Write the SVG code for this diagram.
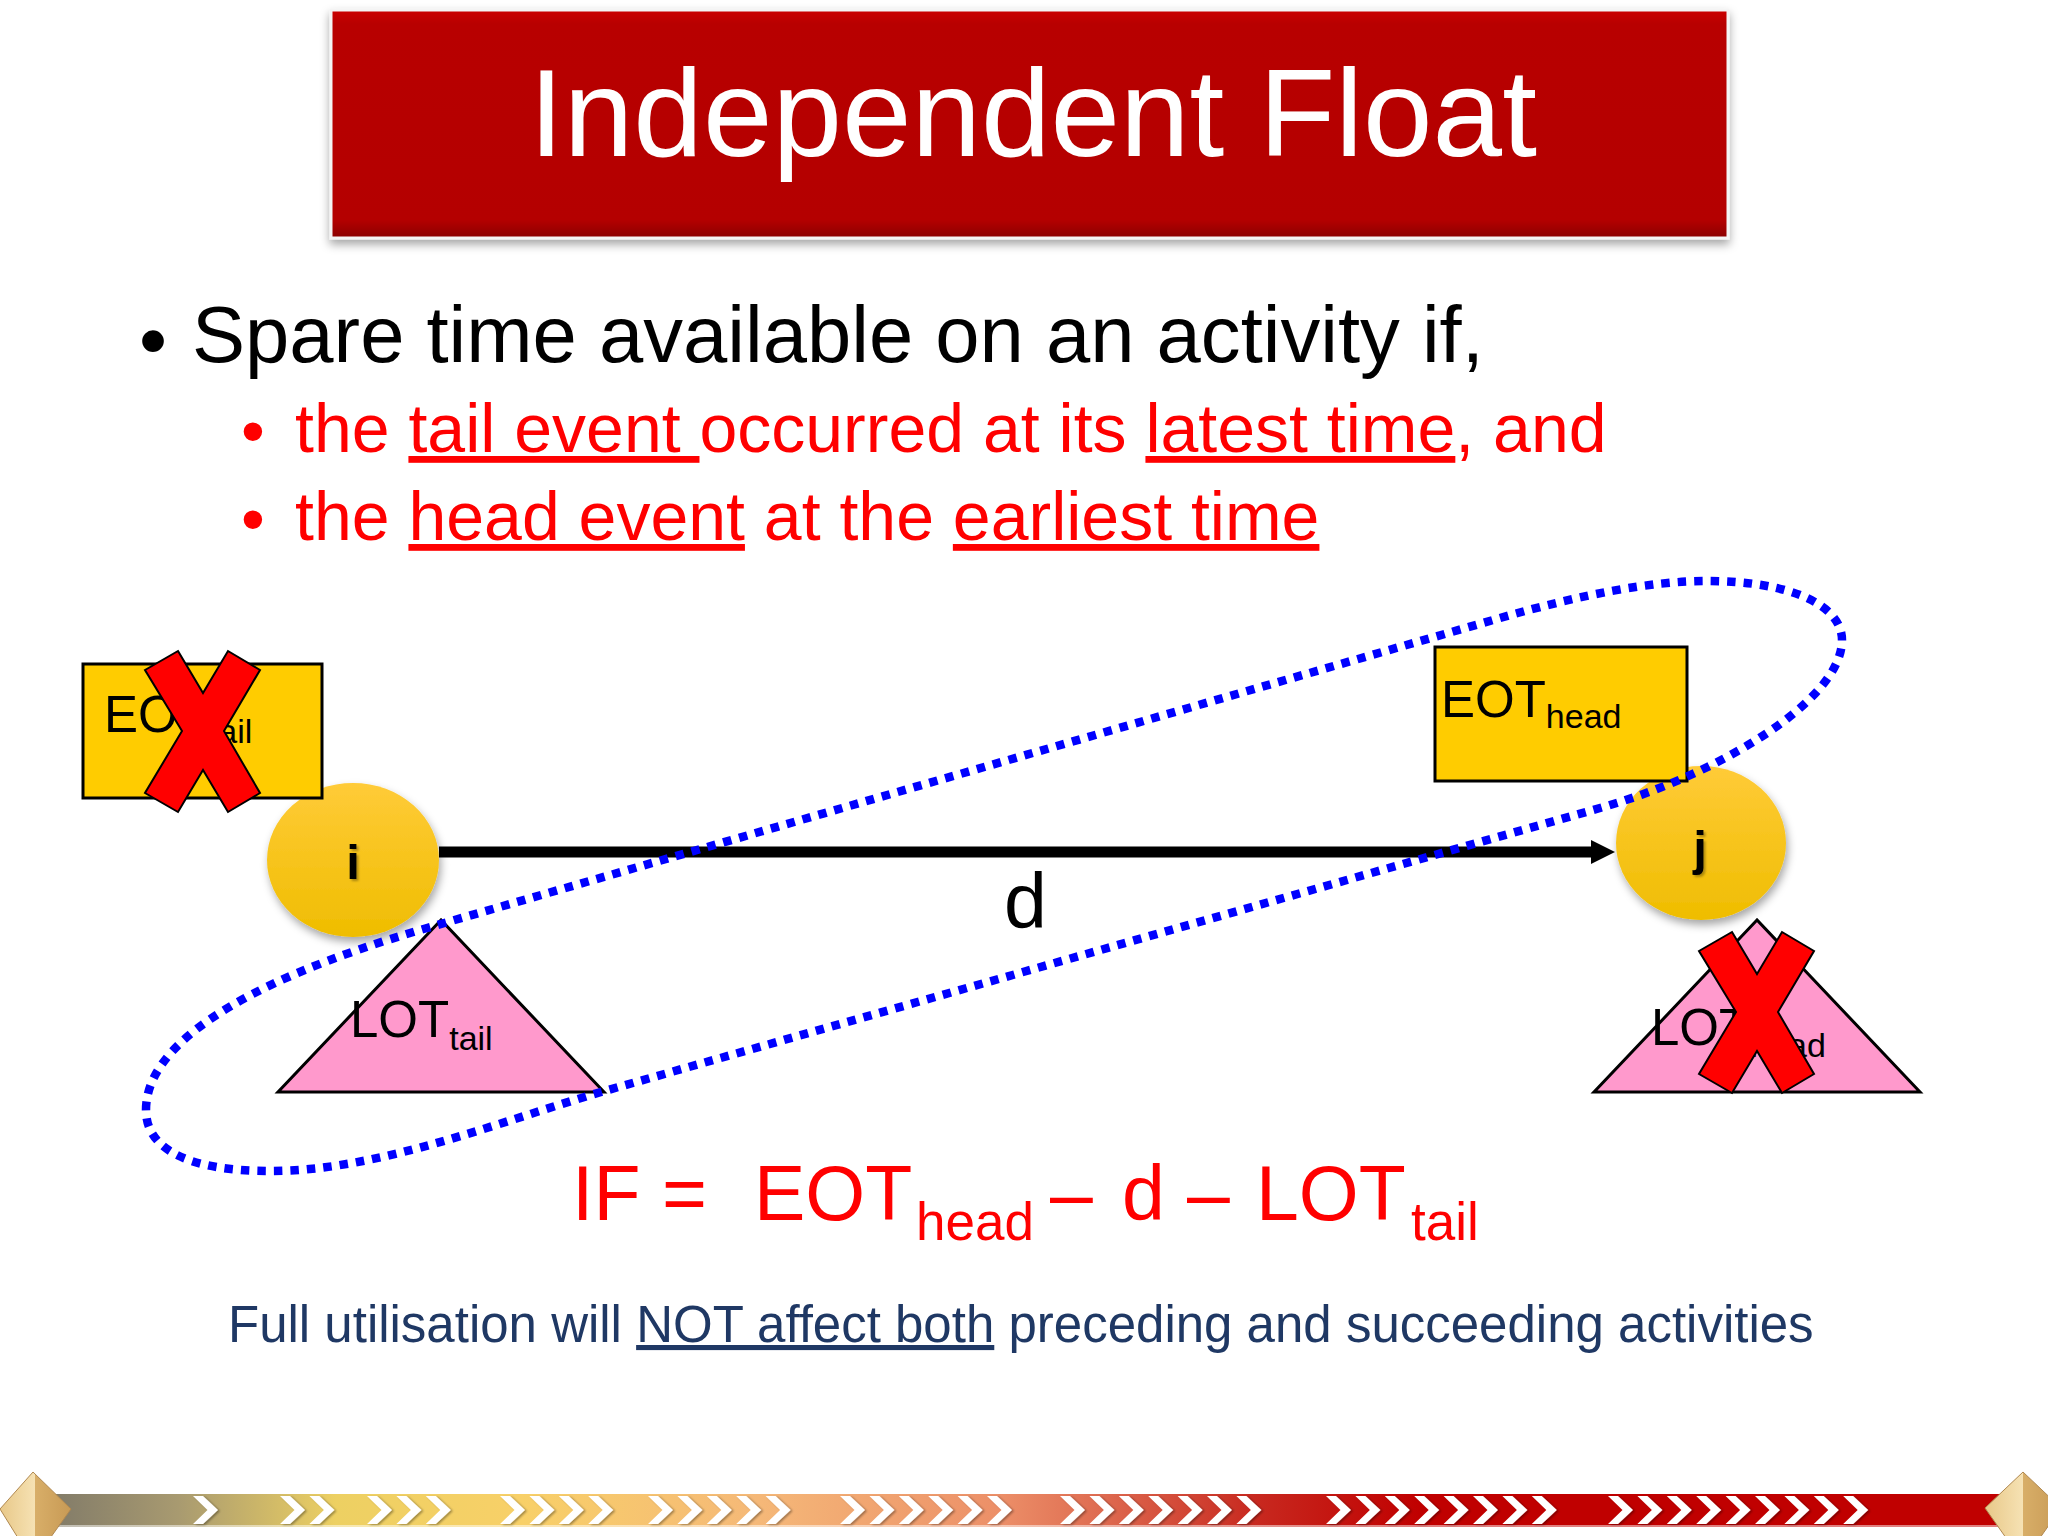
<svg xmlns="http://www.w3.org/2000/svg" width="2048" height="1536" viewBox="0 0 2048 1536">
<defs>
<style>
text { font-family: "Liberation Sans", Arial, sans-serif; }
.box { fill: #FFCC00; stroke: #000; stroke-width: 3; }
.tri { fill: #FF99CC; stroke: #000; stroke-width: 3; }
.lbl { font-size: 51px; fill: #000; }
.sub { font-size: 34px; }
.ev { fill: url(#gold); filter: url(#sh); }
.evt { font-size: 49px; font-weight: bold; fill: #000; text-anchor: middle; filter: url(#lsh); }
.red { fill: #FF0000; font-size: 68px; }
.u { text-decoration: underline; }
</style>
<linearGradient id="gold" x1="0" y1="0" x2="0" y2="1">
<stop offset="0" stop-color="#FFCB38"/>
<stop offset="1" stop-color="#EFBD00"/>
</linearGradient>
<linearGradient id="titleg" x1="0" y1="0" x2="0" y2="1">
<stop offset="0" stop-color="#CC0000"/>
<stop offset="0.06" stop-color="#B80000"/>
<stop offset="0.92" stop-color="#B40000"/>
<stop offset="1" stop-color="#8A0000"/>
</linearGradient>
<linearGradient id="bar" gradientUnits="userSpaceOnUse" x1="40" y1="0" x2="2010" y2="0">
<stop offset="0" stop-color="#7E7868"/>
<stop offset="0.07" stop-color="#A89A70"/>
<stop offset="0.15" stop-color="#EDD062"/>
<stop offset="0.245" stop-color="#F8D068"/>
<stop offset="0.365" stop-color="#F5B878"/>
<stop offset="0.487" stop-color="#EC8F68"/>
<stop offset="0.54" stop-color="#DE6A50"/>
<stop offset="0.615" stop-color="#C82A20"/>
<stop offset="0.70" stop-color="#C00000"/>
<stop offset="1" stop-color="#C00000"/>
</linearGradient>
<linearGradient id="gemL" x1="0" y1="0" x2="1" y2="0">
<stop offset="0" stop-color="#E8C888"/>
<stop offset="0.5" stop-color="#F6E2B4"/>
<stop offset="0.5" stop-color="#D8AE68"/>
<stop offset="1" stop-color="#C89A55"/>
</linearGradient>
<filter id="sh" x="-20%" y="-20%" width="150%" height="160%">
<feDropShadow dx="2" dy="5" stdDeviation="4" flood-color="#000" flood-opacity="0.35"/>
</filter>
<filter id="tsh" x="-5%" y="-20%" width="110%" height="150%">
<feDropShadow dx="0" dy="5" stdDeviation="5" flood-color="#000" flood-opacity="0.35"/>
</filter>
<filter id="lsh" x="-30%" y="-30%" width="160%" height="160%">
<feDropShadow dx="2" dy="2" stdDeviation="1" flood-color="#000" flood-opacity="0.3"/>
</filter>
<filter id="csh" x="-20%" y="-20%" width="150%" height="150%">
<feDropShadow dx="2" dy="1" stdDeviation="1" flood-color="#000" flood-opacity="0.35"/>
</filter>
<path id="xmark" d="M-25,-80 L0,-38 L25,-80 L57,-61 L21,0 L57,62 L25,81 L0,39 L-25,81 L-58,62 L-21,0 L-58,-61 Z" fill="#FF0000" stroke="#000" stroke-width="2"/>
<path id="chev" d="M0,0 L10,0 L25,14 L10,28 L0,28 L14.5,14 Z" fill="#FFFFFF"/>
<marker id="ah" markerUnits="userSpaceOnUse" markerWidth="26" markerHeight="26" refX="0" refY="12" orient="auto">
<path d="M0,0 L24,12 L0,24 Z" fill="#000"/>
</marker>
</defs>

<rect x="0" y="0" width="2048" height="1536" fill="#FFFFFF"/>

<g id="title">
<rect x="331" y="10" width="1397" height="228" fill="url(#titleg)" stroke="#F4F4F4" stroke-width="3" filter="url(#tsh)"/>
<text x="1033" y="156" font-size="125" fill="#FFFFFF" text-anchor="middle">Independent Float</text>
</g>

<g id="bullets">
<text x="139" y="368" font-size="80" fill="#000">•</text>
<text x="192" y="362" font-size="79.6" fill="#000">Spare time available on an activity if,</text>
<text x="241" y="454" class="red">•</text>
<text x="295" y="452" class="red">the <tspan class="u">tail event </tspan>occurred at its <tspan class="u">latest time</tspan>, and</text>
<text x="241" y="542" class="red">•</text>
<text x="295" y="540" class="red">the <tspan class="u">head event</tspan> at the <tspan class="u">earliest time</tspan></text>
</g>

<g id="connectors">
<line x1="439" y1="852" x2="1591" y2="852" stroke="#000" stroke-width="11" marker-end="url(#ah)"/>
<text x="1004" y="928" font-size="77" fill="#000">d</text>
</g>

<g id="node-i">
<ellipse class="ev" cx="353" cy="860" rx="86" ry="77"/>
<text class="evt" x="353" y="879">i</text>
</g>
<g id="node-j">
<ellipse class="ev" cx="1701" cy="843" rx="85" ry="77"/>
<text class="evt" x="1700" y="865">j</text>
</g>

<g id="eot-tail">
<rect class="box" x="83" y="664" width="239" height="134"/>
<text class="lbl" x="104" y="732">EOT<tspan class="sub" dy="11">tail</tspan></text>
</g>
<g id="eot-head">
<rect class="box" x="1435" y="647" width="252" height="134"/>
<text class="lbl" x="1441" y="717">EOT<tspan class="sub" dy="11">head</tspan></text>
</g>
<g id="lot-tail">
<polygon class="tri" points="441,920 278,1092 604,1092"/>
<text class="lbl" x="350" y="1037">LOT<tspan class="sub" dy="13">tail</tspan></text>
</g>
<g id="lot-head">
<polygon class="tri" points="1757,920 1594,1092 1920,1092"/>
<text class="lbl" x="1651" y="1045">LOT<tspan class="sub" dy="12">head</tspan></text>
</g>

<g id="float-ellipse">
<path d="M146,1110 C146,1050 227,986 427,928 L1500,618 C1580,595 1650,581 1707,581 C1790,581 1842,605 1842,640 C1842,700 1720,774 1600,808 L608,1090 C500,1121 380,1171 270,1171 C190,1171 146,1150 146,1110 Z" fill="none" stroke="#0000FF" stroke-width="8.5" stroke-dasharray="8.5 8"/>
</g>

<g id="cross-marks">
<use href="#xmark" transform="translate(203,731)"/>
<use href="#xmark" transform="translate(1757,1012)"/>
</g>

<g id="formula">
<text y="1220" font-size="77" fill="#FF0000"><tspan x="572">IF</tspan><tspan x="662">=</tspan><tspan x="754">EOT</tspan><tspan x="916" y="1240" font-size="53">head</tspan><tspan x="1050" y="1220">–</tspan><tspan x="1122">d</tspan><tspan x="1187">–</tspan><tspan x="1256">LOT</tspan><tspan x="1411" y="1240" font-size="53">tail</tspan></text>
</g>

<g id="footer">
<text x="228" y="1342" font-size="51" fill="#1F3864">Full utilisation will <tspan class="u">NOT affect both</tspan> preceding and succeeding activities</text>
</g>

<g id="bottom-bar">
<rect x="40" y="1494" width="1970" height="33" fill="url(#bar)"/>
<rect x="40" y="1525" width="1970" height="2" fill="#FFFFFF" opacity="0.5"/>
<g transform="translate(0,1496)" filter="url(#csh)">
<use href="#chev" x="193"/>
<use href="#chev" x="280"/><use href="#chev" x="309.4"/>
<use href="#chev" x="367"/><use href="#chev" x="396.4"/><use href="#chev" x="425.8"/>
<use href="#chev" x="500"/><use href="#chev" x="529.4"/><use href="#chev" x="558.8"/><use href="#chev" x="588.2"/>
<use href="#chev" x="648"/><use href="#chev" x="677.4"/><use href="#chev" x="706.8"/><use href="#chev" x="736.2"/><use href="#chev" x="765.6"/>
<use href="#chev" x="840"/><use href="#chev" x="869.4"/><use href="#chev" x="898.8"/><use href="#chev" x="928.2"/><use href="#chev" x="957.6"/><use href="#chev" x="987"/>
<use href="#chev" x="1060"/><use href="#chev" x="1089.4"/><use href="#chev" x="1118.8"/><use href="#chev" x="1148.2"/><use href="#chev" x="1177.6"/><use href="#chev" x="1207"/><use href="#chev" x="1236.4"/>
<use href="#chev" x="1326"/><use href="#chev" x="1355.4"/><use href="#chev" x="1384.8"/><use href="#chev" x="1414.2"/><use href="#chev" x="1443.6"/><use href="#chev" x="1473"/><use href="#chev" x="1502.4"/><use href="#chev" x="1531.8"/>
<use href="#chev" x="1608"/><use href="#chev" x="1637.4"/><use href="#chev" x="1666.8"/><use href="#chev" x="1696.2"/><use href="#chev" x="1725.6"/><use href="#chev" x="1755"/><use href="#chev" x="1784.4"/><use href="#chev" x="1813.8"/><use href="#chev" x="1843.2"/>
</g>
<polygon points="33,1472 0,1509 33,1562 71,1509" fill="url(#gemL)" stroke="#B08850" stroke-width="1"/>
<polygon points="2023,1472 1985,1508 2023,1562 2061,1508" fill="url(#gemL)" stroke="#B08850" stroke-width="1"/>
</g>
</svg>
